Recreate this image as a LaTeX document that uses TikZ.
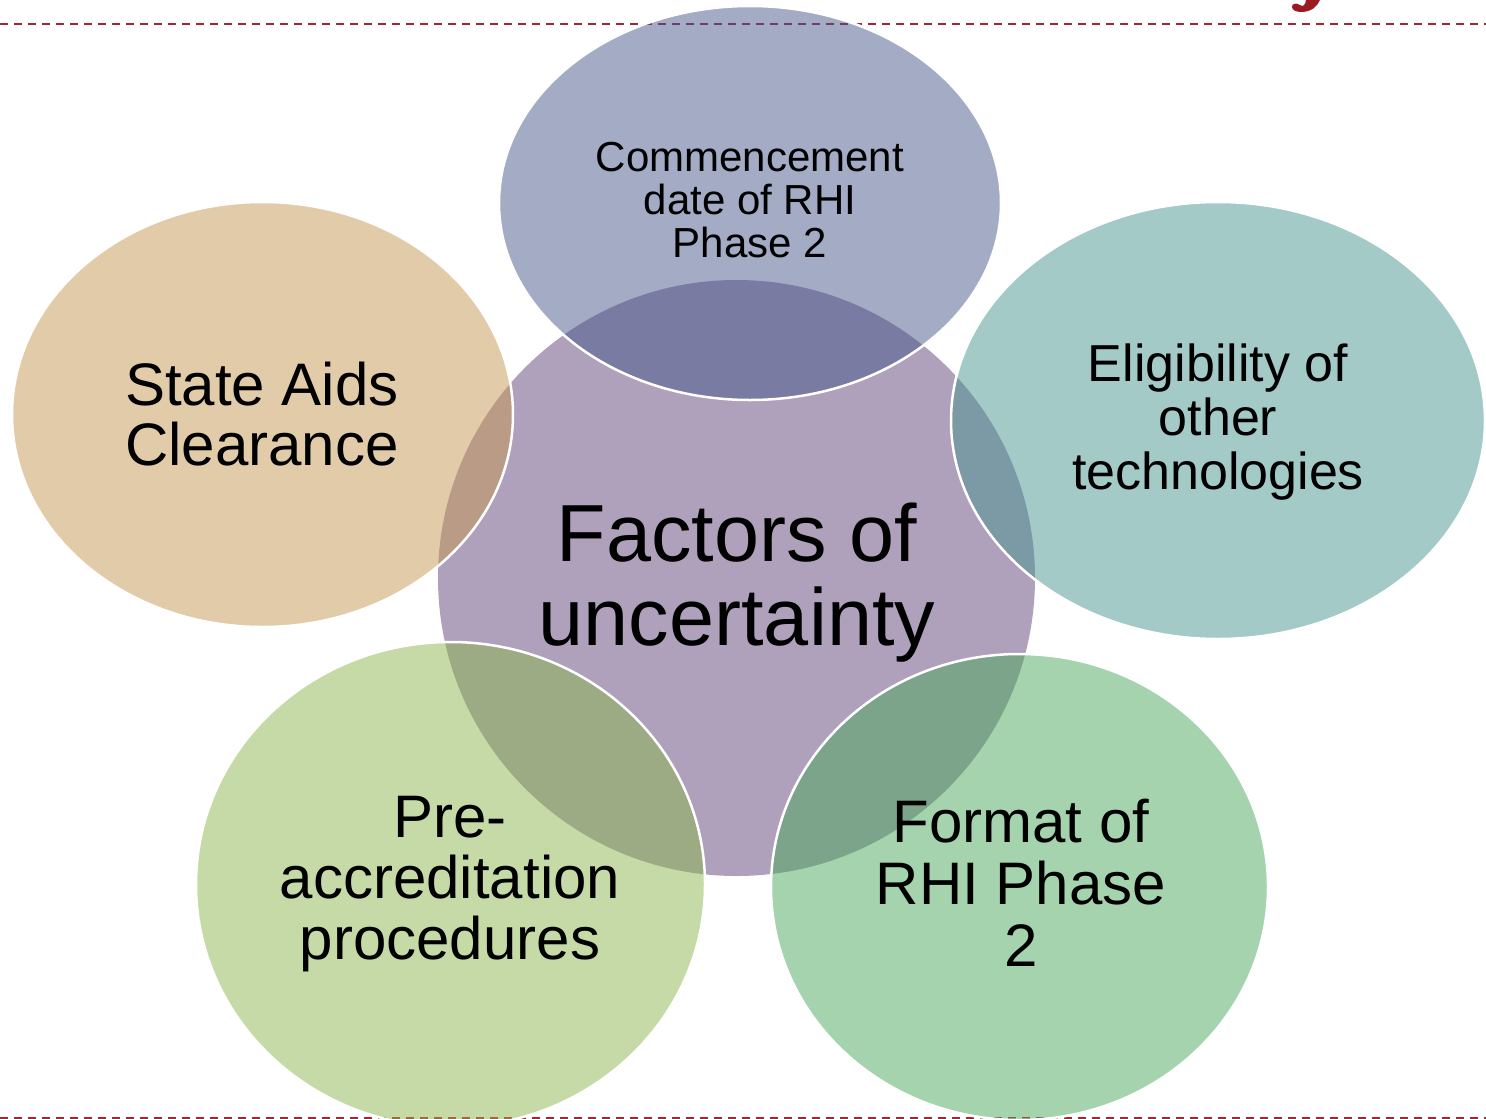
\documentclass[tikz,border=0pt]{standalone}
\usepackage{fontspec}
\setmainfont{Liberation Sans}
\usetikzlibrary{shapes.geometric}
\definecolor{cCenter}{RGB}{175,161,187}
\definecolor{cTop}{RGB}{71,87,139}
\definecolor{cLeft}{RGB}{197,151,83}
\definecolor{cRight}{RGB}{73,149,145}
\definecolor{cBL}{RGB}{141,181,79}
\definecolor{cBR}{RGB}{75,167,91}
\definecolor{cDash}{RGB}{160,38,56}
\definecolor{cTitle}{RGB}{155,27,35}
\tikzset{
  venn/.style={ellipse, inner sep=0pt, outer sep=0pt, draw=white, line width=2.5pt, fill opacity=0.5},
  hub/.style={ellipse, inner sep=0pt, outer sep=0pt, fill=cCenter, draw=none},
  dashline/.style={draw=cDash, line width=2.8pt, dash pattern=on 8pt off 6pt},
  lbl/.style={inner sep=0pt, align=center, text=black},
}
\begin{document}
\begin{tikzpicture}[x=1pt,y=-1pt]
\useasboundingbox (0,0) rectangle (1486,1119);
% fragment of a cut-off title glyph (descender hook)
\fill[cTitle] (1320,0) .. controls (1317,7) and (1311,12) .. (1301,12)
  .. controls (1296,12) and (1292,10) .. (1292,7)
  .. controls (1292,4) and (1295,3) .. (1298,4)
  .. controls (1300,5) and (1301,6) .. (1303,6)
  .. controls (1305,5) and (1306,2) .. (1306,0) -- cycle;
% dashed rules
\coordinate (tl) at (0,24);
\coordinate (tr) at (1486,24);
\coordinate (bl) at (0,1118);
\coordinate (br) at (1486,1118);
\draw[dashline] (tl) -- (tr);
\draw[dashline] (bl) -- (br);
% hub
\node[hub, minimum width=597pt, minimum height=596pt] (hub) at (736.5,578) {};
% outer ellipses
\node[venn, fill=cTop, minimum width=502pt, minimum height=394pt] (top) at (750,203) {};
\node[venn, fill=cLeft, minimum width=501pt, minimum height=425pt] (left) at (262.5,414.5) {};
\node[venn, fill=cRight, minimum width=534pt, minimum height=437pt] (right) at (1218,420.5) {};
\node[venn, fill=cBL, minimum width=509pt, minimum height=485pt] (bl) at (450.5,884.5) {};
\node[venn, fill=cBR, minimum width=497pt, minimum height=466pt] (br) at (1019.5,887) {};
% texts
\node[lbl, font=\fontsize{81}{84}\selectfont] (thub) at (737,583) {Factors of\\uncertainty};
\node[lbl, font=\fontsize{42}{43}\selectfont] (ttop) at (750,200) {Commencement\\date of RHI\\Phase 2};
\node[lbl, font=\fontsize{60}{60}\selectfont] (tleft) at (262,414) {State Aids\\Clearance};
\node[lbl, font=\fontsize{52}{54}\selectfont] (tright) at (1218,422) {Eligibility of\\other\\technologies};
\node[lbl, font=\fontsize{60}{61}\selectfont] (tbl) at (450,884) {Pre-\\accreditation\\procedures};
\node[lbl, font=\fontsize{60}{62}\selectfont] (tbr) at (1021,883) {Format of\\RHI Phase\\2};
\end{tikzpicture}
\end{document}
